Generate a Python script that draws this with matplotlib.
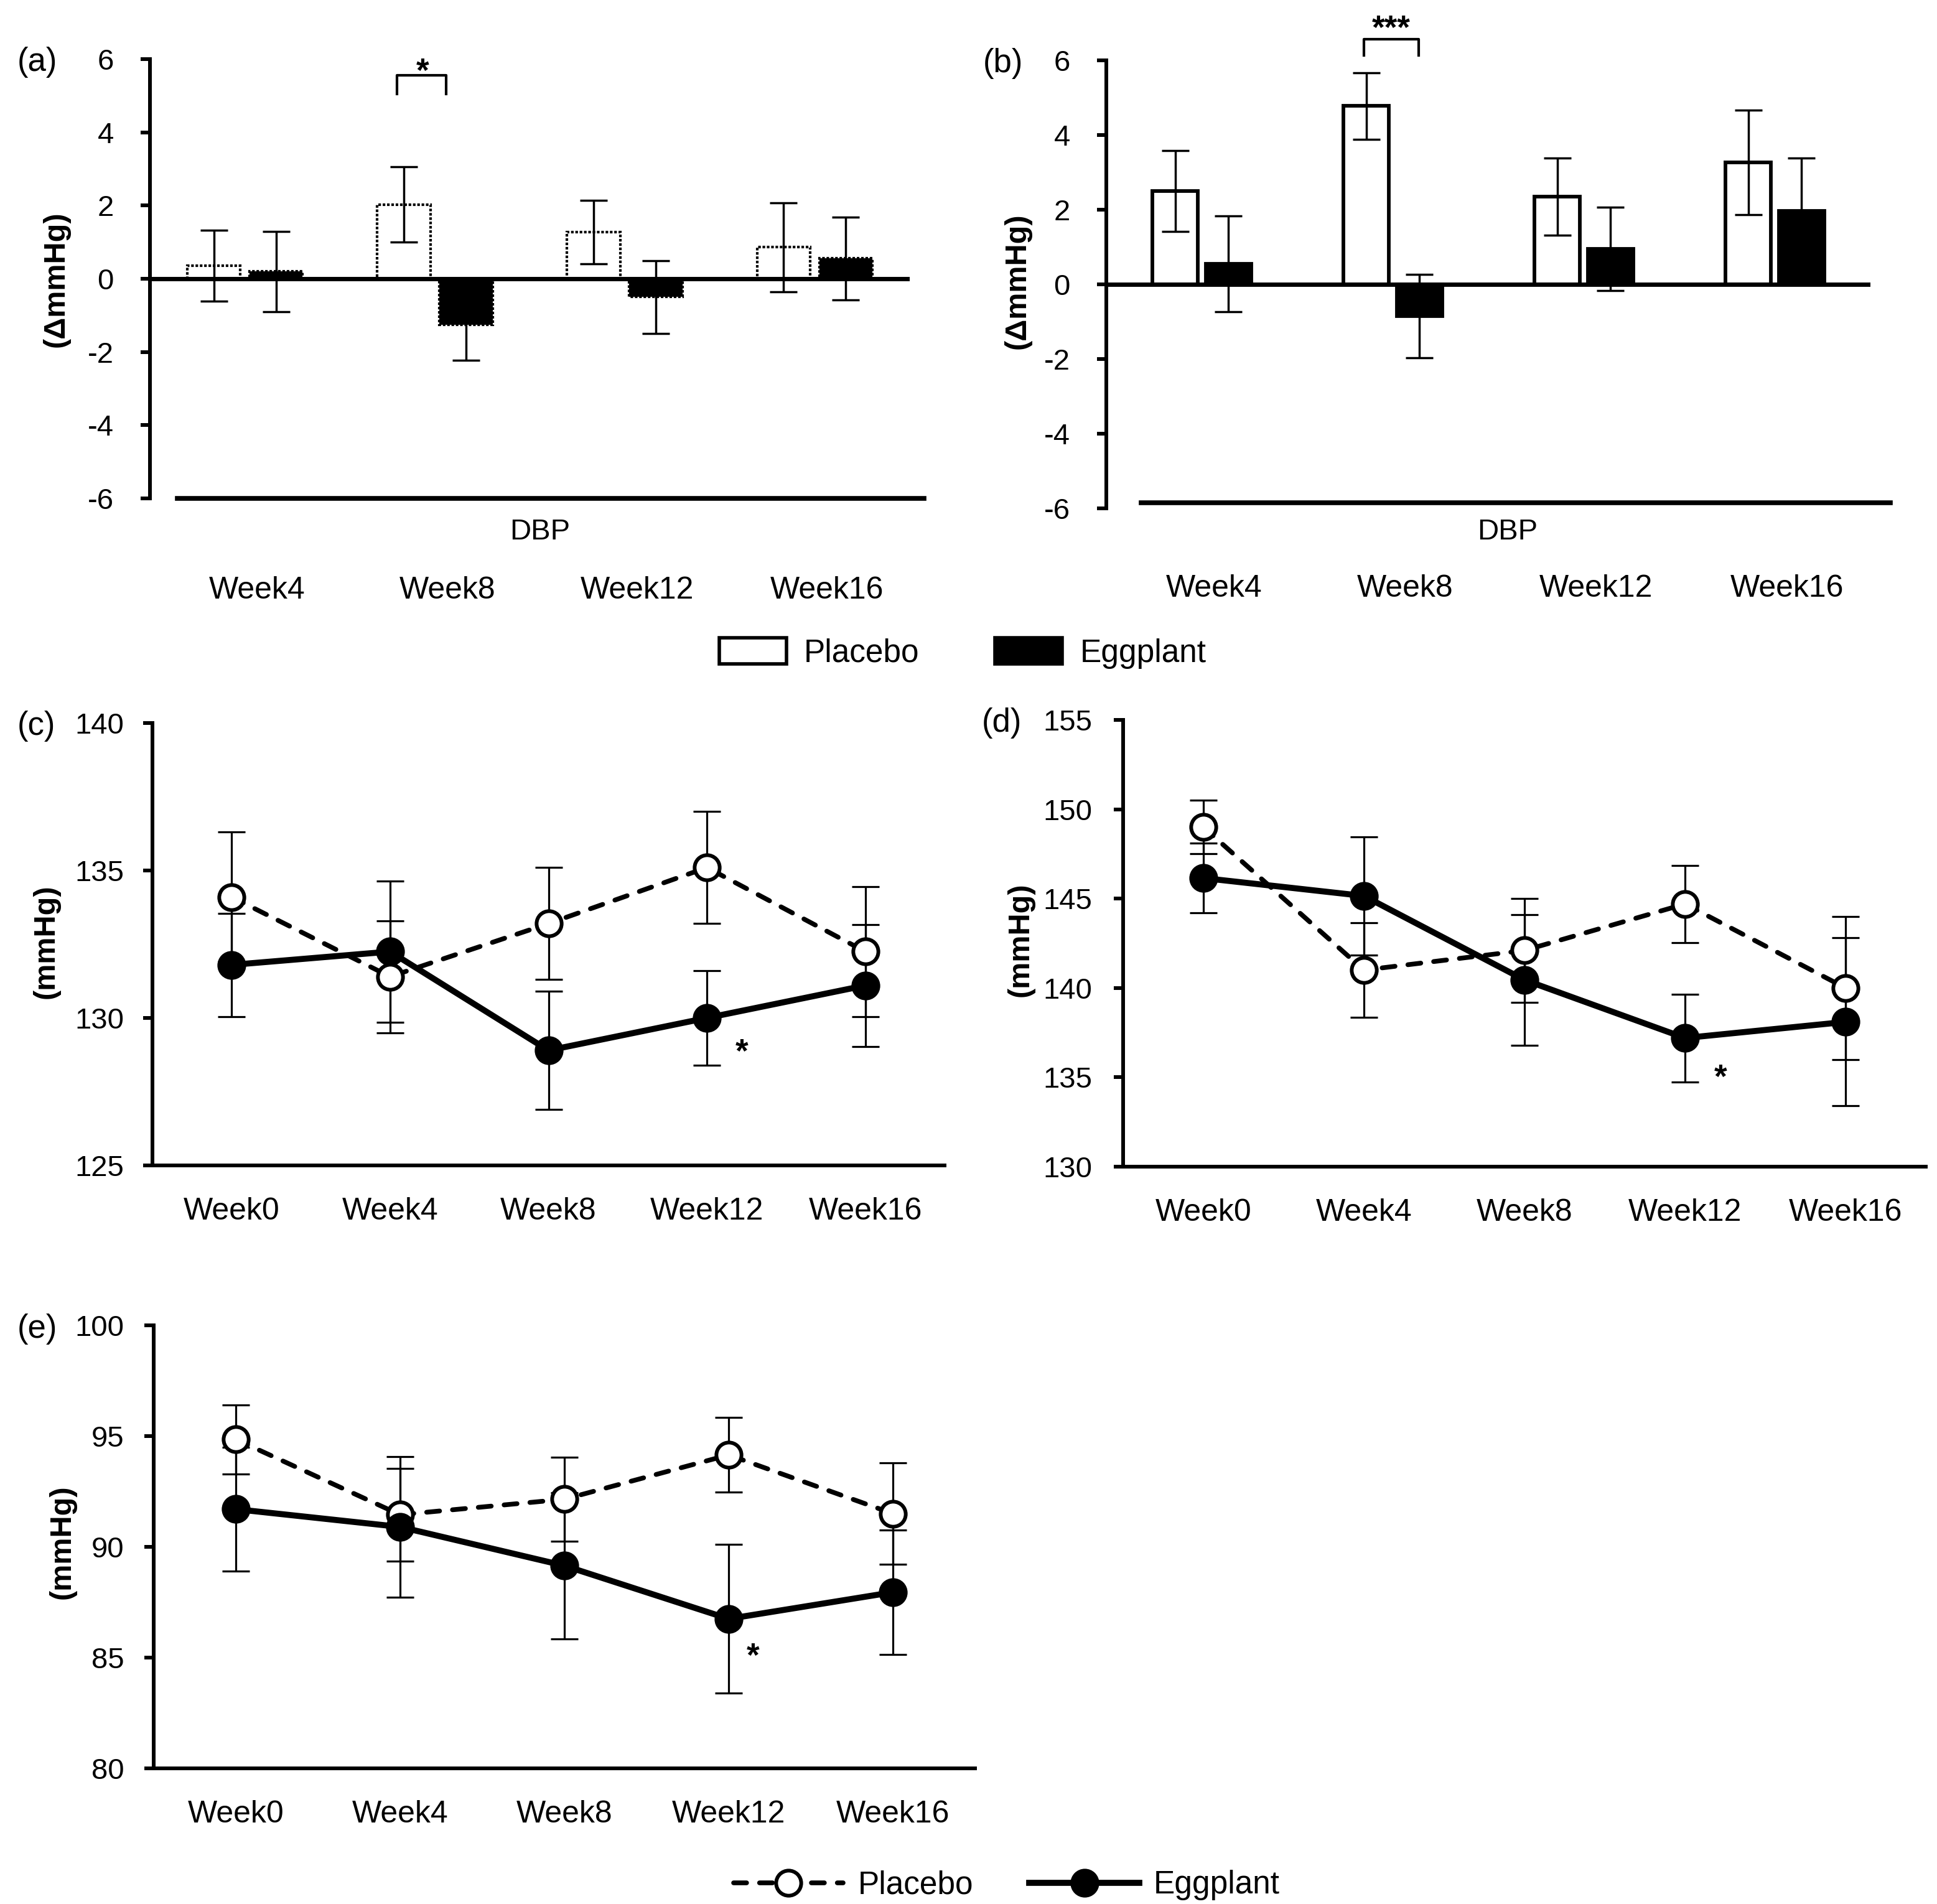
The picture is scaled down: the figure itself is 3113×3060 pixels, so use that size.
import numpy as np
import matplotlib
matplotlib.use("Agg")
import matplotlib.pyplot as plt
from matplotlib.patches import Patch
from matplotlib.lines import Line2D

plt.rcParams["font.family"] = ["Liberation Sans", "DejaVu Sans"]
plt.rcParams["axes.unicode_minus"] = False
plt.rcParams["lines.scale_dashes"] = False

# ---- data -------------------------------------------------------------
weeks_bar = ["Week4", "Week8", "Week12", "Week16"]
a_placebo = [0.35, 2.03, 1.27, 0.86]
a_placebo_err = [0.97, 1.03, 0.87, 1.22]
a_egg = [0.2, -1.25, -0.5, 0.56]
a_egg_err = [1.1, 0.98, 1.0, 1.13]

b_placebo = [2.5, 4.78, 2.35, 3.27]
b_placebo_err = [1.08, 0.89, 1.04, 1.4]
b_egg = [0.55, -0.85, 0.95, 1.97]
b_egg_err = [1.28, 1.12, 1.12, 1.42]

weeks_line = ["Week0", "Week4", "Week8", "Week12", "Week16"]
c_placebo = [134.1, 131.4, 133.2, 135.1, 132.25]
c_placebo_err = [2.2, 1.9, 1.9, 1.9, 2.2]
c_egg = [131.8, 132.25, 128.9, 130.0, 131.1]
c_egg_err = [1.75, 2.4, 2.0, 1.6, 2.07]

d_placebo = [149.0, 141.0, 142.1, 144.7, 140.0]
d_placebo_err = [1.5, 2.65, 2.9, 2.15, 4.0]
d_egg = [146.15, 145.15, 140.45, 137.2, 138.1]
d_egg_err = [1.95, 3.3, 3.65, 2.45, 4.7]

e_placebo = [94.85, 91.45, 92.15, 94.15, 91.5]
e_placebo_err = [1.55, 2.1, 1.9, 1.68, 2.3]
e_egg = [91.7, 90.9, 89.15, 86.75, 87.95]
e_egg_err = [2.8, 3.17, 3.3, 3.35, 2.8]

W, H = 3113, 3060
fig = plt.figure(figsize=(W / 100, H / 100), dpi=100)


def box(l, r, t, b):
    return [l / W, 1 - b / H, (r - l) / W, (b - t) / H]


def ftext(x, y, s, **kw):
    fig.text(x / W, 1 - y / H, s, **kw)


TICK_FS = 34
CAT_FS = 36
LEG_FS = 37
SPINE_LW = 4.3
PLACEBO_STYLE = dict(color="k", lw=5.5, dashes=(15, 15), dash_capstyle="round",
                     marker="o", ms=29, mfc="white", mec="k", mew=4.3)
EGG_STYLE = dict(color="k", lw=7, marker="o", ms=29, mfc="k", mec="k", mew=4.3)


def bar_panel(ax, placebo, p_err, egg, e_err, dotted, width, off, bot_xr, bot_y, xpad):
    x = np.arange(len(weeks_bar))
    ls = (0, (3, 2)) if dotted else "-"
    elw = 3.0 if dotted else 4.2
    ax.bar(x - off, placebo, width, color="white", edgecolor="k", linewidth=elw, linestyle=ls, zorder=2)
    ax.bar(x + off, egg, width, color="k", edgecolor="k", linewidth=elw, linestyle=ls, zorder=2)
    for xs, ys, es in ((x - off, placebo, p_err), (x + off, egg, e_err)):
        ax.errorbar(xs, ys, yerr=es, fmt="none", ecolor="k", elinewidth=2.5,
                    capsize=16, capthick=2.5, zorder=3)
    ax.axhline(0, color="k", lw=5, zorder=4)
    ax.axhline(bot_y, xmin=bot_xr[0], xmax=bot_xr[1], color="k", lw=5.5, clip_on=False)
    ax.set_xlim(-0.5, 3.5)
    ax.set_ylim(-6, 6)
    ax.set_yticks(np.arange(-6, 7, 2))
    ax.set_xticks(x + 0.065)
    ax.set_xticklabels(weeks_bar, fontsize=CAT_FS)
    ax.tick_params(axis="x", length=0, pad=xpad)
    ax.tick_params(axis="y", direction="out", length=11, width=SPINE_LW, labelsize=TICK_FS, pad=31)
    for s in ("top", "right", "bottom"):
        ax.spines[s].set_visible(False)
    ax.spines["left"].set_linewidth(SPINE_LW)


def line_panel(ax, placebo, p_err, egg, e_err, yticks, star, ypad):
    x = np.arange(len(weeks_line))
    for ys, es in ((placebo, p_err), (egg, e_err)):
        ax.errorbar(x, ys, yerr=es, fmt="none", ecolor="k", elinewidth=2.3,
                    capsize=16, capthick=2.3, zorder=2)
    ax.plot(x, placebo, zorder=3, **PLACEBO_STYLE)
    ax.plot(x, egg, zorder=4, **EGG_STYLE)
    ax.text(star[0], star[1], "*", fontsize=38, fontweight="bold", ha="center", va="center")
    ax.set_xlim(-0.5, 4.5)
    ax.set_ylim(yticks[0], yticks[-1])
    ax.set_yticks(yticks)
    ax.set_xticks(x)
    ax.set_xticklabels(weeks_line, fontsize=CAT_FS)
    ax.tick_params(axis="x", length=0, pad=37)
    ax.tick_params(axis="y", direction="out", length=11, width=SPINE_LW, labelsize=TICK_FS, pad=ypad)
    for s in ("top", "right"):
        ax.spines[s].set_visible(False)
    for s in ("left", "bottom"):
        ax.spines[s].set_linewidth(SPINE_LW)


# (a)
ax_a = fig.add_axes(box(241, 1462, 95, 801))
bar_panel(ax_a, a_placebo, a_placebo_err, a_egg, a_egg_err, True, 0.28, 0.164,
          (0.036, 1.019), -6, 90)
ax_a.plot([0.80, 0.80, 1.06, 1.06], [5.05, 5.56, 5.56, 5.05], color="k", lw=3,
          solid_joinstyle="round", clip_on=False)
ax_a.text(0.935, 5.62, "*", fontsize=38, fontweight="bold", ha="center", va="center")

# (b)
ax_b = fig.add_axes(box(1778, 3006, 97, 817))
bar_panel(ax_b, b_placebo, b_placebo_err, b_egg, b_egg_err, False, 0.238, 0.14,
          (0.046, 1.026), -5.85, 76)
ax_b.plot([0.85, 0.85, 1.135, 1.135], [6.13, 6.57, 6.57, 6.13], color="k", lw=3,
          solid_joinstyle="round", clip_on=False)
ax_b.text(0.99, 6.82, "***", fontsize=38, fontweight="bold", ha="center", va="center")

# (c), (d), (e)
ax_c = fig.add_axes(box(245, 1518, 1162, 1873))
line_panel(ax_c, c_placebo, c_placebo_err, c_egg, c_egg_err, [125, 130, 135, 140], (3.22, 128.8), 22)
ax_d = fig.add_axes(box(1805, 3095, 1157, 1875))
line_panel(ax_d, d_placebo, d_placebo_err, d_egg, d_egg_err, [130, 135, 140, 145, 150, 155], (3.22, 134.9), 25)
ax_e = fig.add_axes(box(247, 1567, 2130, 2842))
line_panel(ax_e, e_placebo, e_placebo_err, e_egg, e_egg_err, [80, 85, 90, 95, 100], (3.15, 85.0), 23)

# panel letters
for s, x, y in [("(a)", 28, 100), ("(b)", 1580, 102), ("(c)", 28, 1167),
                ("(d)", 1578, 1162), ("(e)", 28, 2136)]:
    ftext(x, y, s, fontsize=38, ha="left", va="center")

# y labels
ylab = dict(fontsize=35, fontweight="bold", rotation=90, ha="center", va="center")
ftext(90, 449, "(\u0394mmHg)", **ylab)
ftext(1635, 452, "(\u0394mmHg)", **ylab)
ftext(74, 1513, "(mmHg)", **ylab)
ftext(1640, 1510, "(mmHg)", **ylab)
ftext(100, 2478, "(mmHg)", **ylab)

# DBP captions
ftext(868, 855, "DBP", fontsize=34, ha="center", va="center")
ftext(2423, 855, "DBP", fontsize=34, ha="center", va="center")

# legends
bar_handles = [Patch(facecolor="white", edgecolor="k", linewidth=4),
               Patch(facecolor="k", edgecolor="k", linewidth=4)]
fig.legend(bar_handles, ["Placebo", "Eggplant"], ncol=2, loc="center",
           bbox_to_anchor=(1547 / W, 1 - 1050 / H), frameon=False, fontsize=LEG_FS,
           handlelength=2.1, handleheight=0.86, handletextpad=0.55, columnspacing=2.37,
           borderpad=0, borderaxespad=0)

line_handles = [Line2D([], [], **PLACEBO_STYLE), Line2D([], [], **EGG_STYLE)]
fig.legend(line_handles, ["Placebo", "Eggplant"], ncol=2, loc="center",
           bbox_to_anchor=(1618 / W, 1 - 3030 / H), frameon=False, fontsize=LEG_FS,
           handlelength=3.43, handletextpad=0.45, columnspacing=1.76,
           borderpad=0, borderaxespad=0)

fig.savefig("out.png", dpi=100, facecolor="white")
